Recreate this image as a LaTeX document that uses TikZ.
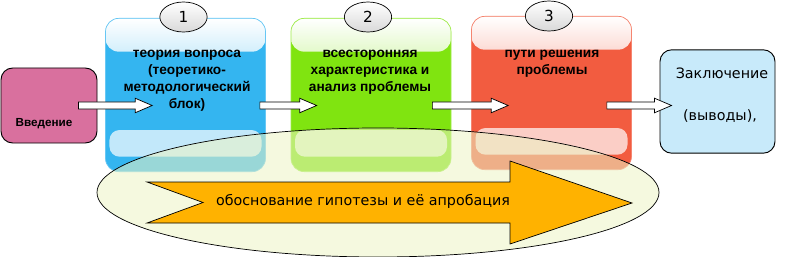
\documentclass[tikz,border=0pt]{standalone}
\usepackage{fontspec}
\setmainfont{DejaVu Sans}
\newfontfamily\boldsans{Liberation Sans}
\usepackage{tikz}
\usetikzlibrary{arrows.meta, positioning, shapes.geometric, calc}

\definecolor{introPink}{RGB}{217,112,158}
\definecolor{stepBlue}{RGB}{52,181,240}
\definecolor{stepGreen}{RGB}{128,228,16}
\definecolor{stepRed}{RGB}{242,92,64}
\definecolor{outroBlue}{RGB}{200,234,250}
\definecolor{ovalFill}{RGB}{236,244,196}
\definecolor{bandOrange}{RGB}{255,178,0}

\begin{document}
\begin{tikzpicture}[
  x=0.03cm, y=-0.03cm,
  plainbox/.style={rectangle, draw=black, line width=0.8pt, rounded corners=0.35cm,
                   inner sep=0pt},
  stagebox/.style={rectangle, draw=#1!75!white, fill=#1, line width=0.6pt,
                   rounded corners=0.4cm, inner sep=0pt,
                   minimum width=4.8cm, minimum height=4.6cm,
                   path picture={
                     \shade[top color=white, bottom color=#1]
                       (path picture bounding box.north west)
                       rectangle ([yshift=-1.0cm]path picture bounding box.north east);
                     \fill[white, opacity=0.7, rounded corners=0.3cm]
                       ([shift={(0.12cm,0.45cm)}]path picture bounding box.south west)
                       rectangle ([shift={(-0.12cm,1.25cm)}]path picture bounding box.south east);
                   }},
  badge/.style={ellipse, draw=black, line width=0.6pt, top color=white,
                bottom color=black!15, minimum width=1.42cm, minimum height=0.9cm,
                inner sep=0pt, font=\fontsize{13}{15}\selectfont},
  stagetext/.style={font=\boldsans\bfseries\fontsize{11.7}{14.6}\selectfont, align=center},
  blockarrow/.style={draw=black, fill=white, line width=0.6pt,
    to path={let \p1=(\tikztostart), \p2=(\tikztotarget) in
      (\x1,\y1+3) -- (\x2-14.5,\y1+3) -- (\x2-14.5,\y1+6.2) -- (\x2,\y1)
      -- (\x2-14.5,\y1-6.2) -- (\x2-14.5,\y1-3) -- (\x1,\y1-3) -- cycle}}
]
  \useasboundingbox (0,0) rectangle (787,257);

  % boxes
  \node[plainbox, fill=introPink, minimum width=2.88cm, minimum height=2.25cm] (intro) at (49,105.5) {};
  \node[font=\boldsans\bfseries\fontsize{10}{12}\selectfont] (introtext) at (44,124) {Введение};

  \node[stagebox=stepBlue] (theory) at (185.5,95) {};
  \node[stagebox=stepGreen] (analysis) at (371,95) {};
  \node[stagebox=stepRed] (solution) at (551.5,93) {};

  \node[plainbox, fill=outroBlue, minimum width=3.45cm, minimum height=3.1cm] (outro) at (717.5,101.5) {};
  \node[font=\fontsize{12.2}{14}\selectfont] (outrotext) at (722,73) {Заключение};
  \node[font=\fontsize{12.2}{14}\selectfont] (outronote) at (720,116) {(выводы),};

  % stage texts
  \node[stagetext, anchor=north] (theorytext) at (187,46) {теория вопроса\\(теоретико-\\методологический\\блок)};
  \node[stagetext, anchor=north] (analysistext) at (370,46) {всесторонняя\\характеристика и\\анализ проблемы};
  \node[stagetext, anchor=north] (solutiontext) at (552,46) {пути решения\\проблемы};

  % numbers
  \node[badge] (n1) at (183.5,17) {1};
  \node[badge] (n2) at (368,17) {2};
  \node[badge] (n3) at (549,16) {3};

  % connectors
  \draw[blockarrow] ($(intro.east)+(-19,0)$) to ($(theory.west |- intro.east)+(47,0)$);
  \draw[blockarrow] ($(theory.east |- intro.east)+(-6,0)$) to ($(analysis.west |- intro.east)+(26,0)$);
  \draw[blockarrow] ($(analysis.east |- intro.east)+(-19,0)$) to ($(solution.west |- intro.east)+(37,0)$);
  \draw[blockarrow] ($(solution.east |- intro.east)+(-25,0)$) to ($(outro.west |- intro.east)+(12,0)$);

  % hypothesis band
  \draw[line width=0.6pt, fill=ovalFill, fill opacity=0.55] (378,192.5) ellipse (281 and 64.5);
  \draw[line width=0.6pt, fill=bandOrange]
    (147,182) -- (510,182) -- (510,161) -- (632,203) -- (510,244) -- (510,223)
    -- (147,223) -- (203,202.5) -- cycle;
  \node[font=\fontsize{12.2}{14}\selectfont] (bandtext) at (363,201) {обоснование гипотезы и её апробация};
\end{tikzpicture}
\end{document}
